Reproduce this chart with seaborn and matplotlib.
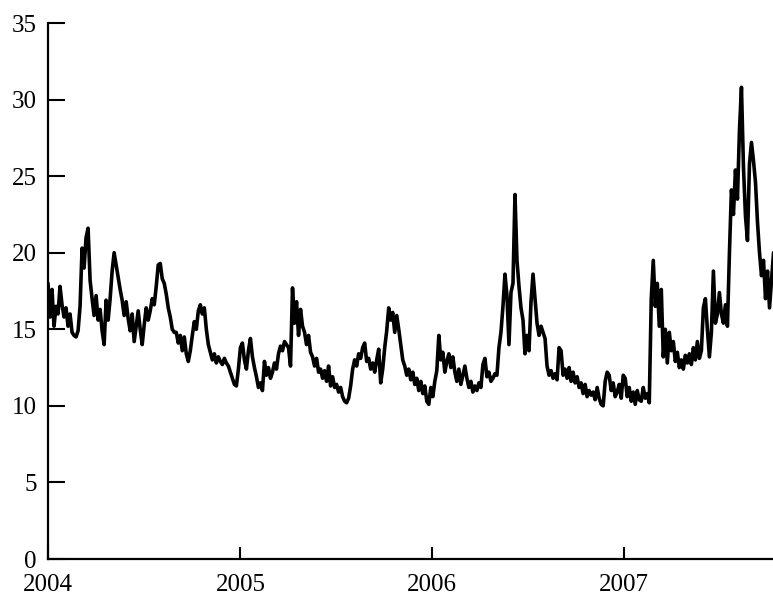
import numpy as np
import pandas as pd
import matplotlib
matplotlib.use("Agg")
import matplotlib.pyplot as plt
import seaborn as sns

# volatility index: about 8 readings per month
vix_2004 = [
    18.0, 15.8, 17.6, 15.2, 16.5, 16.0, 17.8, 16.6,   # Jan
    15.8, 16.4, 15.2, 16.0, 14.8, 14.6, 14.5, 14.9,   # Feb
    16.5, 20.3, 19.0, 21.0, 21.6, 18.2, 17.0, 15.9,   # Mar
    17.2, 15.6, 16.3, 14.9, 14.0, 16.9, 15.6, 17.0,   # Apr
    18.8, 20.0, 19.2, 18.4, 17.6, 16.9, 15.9, 16.8,   # May
    15.7, 14.9, 16.0, 14.2, 15.2, 16.2, 15.0, 14.0,   # Jun
    15.3, 16.4, 15.6, 16.2, 17.0, 16.6, 17.8, 19.2,   # Jul
    19.3, 18.3, 18.0, 17.3, 16.4, 15.8, 15.0, 14.8,   # Aug
    14.8, 14.1, 14.6, 13.6, 14.5, 13.4, 12.9, 13.6,   # Sep
    14.6, 15.5, 15.0, 16.2, 16.6, 16.0, 16.4, 15.0,   # Oct
    14.0, 13.5, 13.0, 13.4, 12.8, 13.2, 12.9, 12.7,   # Nov
    13.1, 12.8, 12.6, 12.2, 11.8, 11.4, 11.3, 12.4,   # Dec
]
vix_2005 = [
    13.8, 14.1, 13.0, 12.4, 13.6, 14.4, 13.2, 12.5,
    11.9, 11.2, 11.5, 11.0, 12.9, 12.0, 12.5, 11.8,
    12.2, 12.8, 12.4, 13.4, 13.9, 13.6, 14.2, 14.0,
    13.8, 12.6, 17.7, 15.4, 16.8, 14.6, 16.3, 15.2,
    14.8, 14.0, 14.6, 13.5, 13.2, 12.6, 13.1, 12.2,
    12.4, 11.8, 12.3, 11.6, 12.6, 11.3, 11.9, 11.2,
    11.4, 10.9, 11.2, 10.6, 10.3, 10.2, 10.5, 11.3,
    12.4, 13.0, 12.6, 13.4, 13.1, 13.8, 14.1, 12.9,
    13.1, 12.4, 12.8, 12.2, 13.0, 13.7, 11.5, 12.4,
    13.8, 14.9, 16.4, 15.6, 16.1, 14.8, 15.9, 15.0,
    14.0, 13.0, 12.6, 12.0, 12.4, 11.7, 12.2, 11.4,
    11.8, 11.0, 11.6, 10.8, 11.3, 10.3, 10.1, 11.2,
]
vix_2006 = [
    10.6, 11.6, 12.3, 14.6, 13.0, 13.5, 12.2, 12.9,
    13.4, 12.5, 13.2, 12.2, 11.6, 12.4, 11.4, 12.0,
    12.6, 11.8, 11.2, 11.6, 10.9, 11.3, 11.0, 11.5,
    11.2, 12.7, 13.1, 11.9, 12.2, 11.6, 11.8, 12.1,
    12.0, 13.8, 14.8, 16.5, 18.6, 17.2, 14.0, 17.4,
    18.0, 23.8, 19.5, 17.8, 16.4, 15.6, 13.4, 14.6,
    13.6, 16.8, 18.6, 17.0, 15.4, 14.6, 15.2, 14.8,
    14.4, 12.6, 12.0, 12.3, 11.8, 12.1, 11.7, 13.8,
    13.6, 12.0, 12.4, 11.8, 12.5, 11.6, 12.2, 11.5,
    11.9, 11.2, 11.5, 10.8, 11.4, 10.6, 11.0, 10.7,
    10.9, 10.4, 11.2, 10.5, 10.1, 10.0, 11.6, 12.2,
    12.0, 11.0, 11.5, 10.6, 10.9, 11.4, 10.5, 12.0,
]
vix_2007 = [
    11.8, 10.6, 11.2, 10.3, 10.9, 10.1, 11.0, 10.4,
    10.3, 11.2, 10.5, 10.8, 10.2, 17.0, 19.5, 16.5,
    18.0, 15.2, 17.6, 13.2, 15.0, 12.8, 14.8, 13.6,
    14.2, 12.9, 13.5, 12.5, 13.0, 12.4, 13.3, 12.8,
    13.4, 12.7, 13.8, 13.0, 14.2, 13.1, 13.6, 16.4,
    17.0, 15.0, 13.2, 14.8, 18.8, 15.4, 16.0, 17.4,
    16.0, 15.4, 16.6, 15.2, 20.0, 24.1, 22.5, 25.4,
    23.5, 28.0, 30.8, 25.6, 22.4, 20.8, 25.8, 27.2,
    26.0, 24.6, 22.0, 20.0, 18.5, 19.5, 17.0, 18.8,
    16.4, 18.2, 20.0,                                  # early Oct
]

year_labels = ["2004", "2005", "2006", "2007"]
y_ticks = [0, 5, 10, 15, 20, 25, 30, 35]

vix = vix_2004 + vix_2005 + vix_2006 + vix_2007
dates = pd.date_range("2004-01-01", "2007-10-12", periods=len(vix))
df = pd.DataFrame({"date": dates, "vix": vix})

sns.set_style("ticks")
plt.rcParams["font.family"] = ["Liberation Serif", "DejaVu Serif"]

fig = plt.figure(figsize=(7.73, 5.99), dpi=100)
ax = fig.add_axes([48 / 773, 40 / 599, 725 / 773, 536 / 599])

sns.lineplot(data=df, x="date", y="vix", color="black", linewidth=2.6, ax=ax)

ax.set_xlim(pd.Timestamp("2004-01-01"), pd.Timestamp("2007-10-11"))
ax.set_ylim(0, 35)
ax.set_xticks([pd.Timestamp(y + "-01-01") for y in year_labels])
ax.set_xticklabels(year_labels)
ax.set_yticks(y_ticks)
ax.set_yticklabels([str(v) for v in y_ticks])
ax.set_xlabel("")
ax.set_ylabel("")

sns.despine(ax=ax)
for side in ["left", "bottom"]:
    ax.spines[side].set_linewidth(1.6)
    ax.spines[side].set_color("black")
ax.tick_params(axis="y", direction="in", length=12, width=1.5, pad=8,
               labelsize=18, colors="black")
ax.tick_params(axis="x", direction="in", length=9, width=1.5, pad=11,
               labelsize=18, colors="black")

fig.savefig("out.png", dpi=100)
